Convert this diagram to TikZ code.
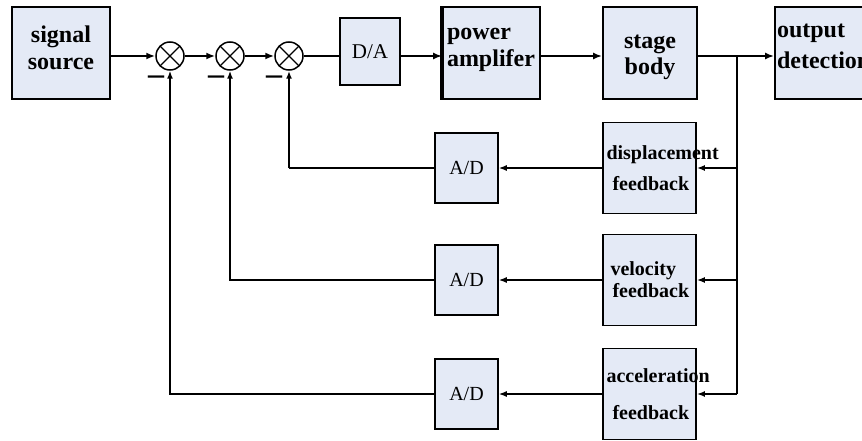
\documentclass[tikz,border=0pt]{standalone}
\usepackage{fontspec}
\setmainfont{Liberation Serif}
\usetikzlibrary{arrows.meta}
\definecolor{boxfill}{RGB}{228,234,246}

\begin{document}
\begin{tikzpicture}[x=1pt,y=-1pt,
  box/.style={draw,line width=1.8pt,fill=boxfill,inner sep=3pt,
              font=\fontsize{24}{27}\selectfont\bfseries},
  fb/.style={box,text width=86pt,align=left,minimum height=91pt,inner sep=3.5pt,
             font=\fontsize{20}{22}\selectfont\bfseries},
  conv/.style={draw,line width=1.5pt,fill=boxfill,minimum width=63pt,minimum height=70pt,
               font=\fontsize{20}{22}\selectfont},
  sum/.style={draw,line width=1.5pt,circle,minimum size=28pt,inner sep=0pt,
              path picture={\draw[line width=1.1pt]
                (path picture bounding box.north west) -- (path picture bounding box.south east)
                (path picture bounding box.north east) -- (path picture bounding box.south west);}},
  minus/.style={font=\fontsize{32}{32}\selectfont\bfseries,inner sep=0pt},
  arr/.style={-{Latex[length=9pt,width=7pt]},line width=2.4pt},
  fbarr/.style={-{Latex[length=8pt,width=6pt]},line width=1.5pt}
]
\useasboundingbox (0,0) rectangle (862,441);

\node[box,minimum width=98pt,minimum height=92pt,align=center] (src) at (61,53) {signal\\source\\[-16pt]\mbox{}};
\node[sum] (s1) at (170,56) {};
\node[sum] (s2) at (230,56) {};
\node[sum] (s3) at (289,56) {};
\node[minus] (m1) at (156,80) {–};
\node[minus] (m2) at (216,80) {–};
\node[minus] (m3) at (274,80) {–};
\node[box,minimum width=60pt,minimum height=67pt,font=\fontsize{21}{24}\selectfont] (da) at (370,51.5) {D/A};
\node[box,text width=89pt,align=left,minimum height=92pt,inner sep=4pt] (pa) at (491.5,53) {power\\amplifer\\[-16pt]\mbox{}};
\node[box,minimum width=94pt,minimum height=92pt,align=center,font=\fontsize{24}{26}\selectfont\bfseries] (sb) at (650,53) {\mbox{}\\[-4pt]stage\\body};
\node[box,text width=91pt,align=left,minimum height=92pt,inner sep=2pt,font=\fontsize{24}{31}\selectfont\bfseries] (od) at (822.5,53) {output\\detection\\[-18pt]\mbox{}};
\coordinate (br) at (737,56);

\node[fb] (dfb) at (649.5,168) {displacement\\[9pt]\hspace*{6pt}feedback};
\node[fb] (vfb) at (649.5,280) {\hspace*{4pt}velocity\\\hspace*{6pt}feedback};
\node[fb] (afb) at (649.5,394) {acceleration\\[15pt]\hspace*{6pt}feedback};
\node[conv] (ad1) at (466.5,168) {A/D};
\node[conv] (ad2) at (466.5,280) {A/D};
\node[conv] (ad3) at (466.5,394) {A/D};

\draw[line width=4pt] (pa.north west) -- (pa.south west);

\draw[arr] (src.east |- s1) -- (s1);
\draw[arr] (s1) -- (s2);
\draw[arr] (s2) -- (s3);
\draw[line width=2.4pt] (s3) -- (da.west |- s3);
\draw[arr] (da.east |- s3) -- (pa.west |- s3);
\draw[arr] (pa.east |- s3) -- (sb.west |- s3);
\draw[arr] (sb.east |- br) -- (od.west |- br);
\draw[line width=1.5pt] (br) -- (br |- afb.east);

\draw[fbarr] (br |- dfb.east) -- (dfb.east);
\draw[fbarr] (br |- vfb.east) -- (vfb.east);
\draw[fbarr,line width=2.4pt] (br |- afb.east) -- (afb.east);
\draw[fbarr] (dfb) -- (ad1);
\draw[fbarr] (vfb) -- (ad2);
\draw[fbarr] (afb) -- (ad3);
\draw[line width=1.5pt] (ad1.west) -- (ad1.west -| s3);
\draw[fbarr,line width=2.6pt] (ad1.west -| s3) -- (s3);
\draw[fbarr] (ad2.west) -| (s2);
\draw[fbarr] (ad3.west) -| (s1);
\end{tikzpicture}
\end{document}
